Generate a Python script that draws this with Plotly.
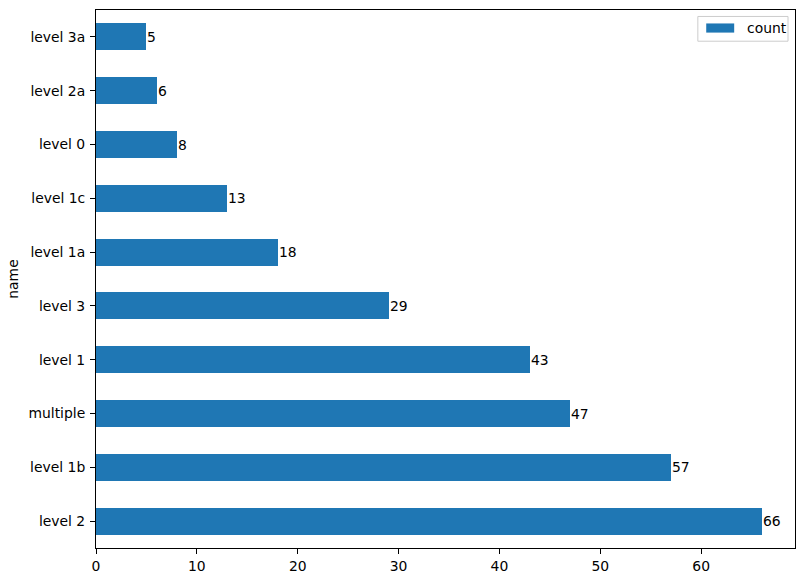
import plotly.graph_objects as go

names = ["level 2", "level 1b", "multiple", "level 1", "level 3", "level 1a", "level 1c", "level 0", "level 2a", "level 3a"]
counts = [66, 57, 47, 43, 29, 18, 13, 8, 6, 5]
x_ticks = [0, 10, 20, 30, 40, 50, 60]

color = "#1f77b4"
font = dict(family="DejaVu Sans", size=13.9, color="black")

fig = go.Figure()
fig.add_trace(go.Bar(
    x=counts, y=list(range(len(names))), orientation="h", width=0.5,
    marker=dict(color=color, line=dict(width=0)), name="count",
    showlegend=False,
))
for i, c in enumerate(counts):
    fig.add_annotation(x=c, y=i, text=str(c), showarrow=False, xanchor="left",
                       yanchor="middle", xshift=-1, font=font)

fig.update_layout(
    width=803, height=582,
    margin=dict(l=96, r=8, t=10, b=34),
    plot_bgcolor="white", paper_bgcolor="white",
    font=font, bargap=0,
)
fig.update_xaxes(
    range=[0, max(counts) * 1.05], tickvals=x_ticks, ticktext=[str(v) for v in x_ticks],
    showgrid=False, zeroline=False, showline=True, linecolor="black", linewidth=1,
    mirror=True, ticks="outside", ticklen=5, tickcolor="black", tickfont=font,
    automargin=False,
)
fig.update_yaxes(
    range=[-0.5, len(names) - 0.5], tickvals=list(range(len(names))), ticktext=names,
    showgrid=False, zeroline=False, showline=True, linecolor="black", linewidth=1,
    mirror=True, ticks="outside", ticklen=5, tickcolor="black", tickfont=font,
    ticklabelstandoff=2, automargin=False,
    title=dict(text="name", font=font, standoff=6),
)

# legend box drawn in paper coordinates (matplotlib-style)
fig.add_shape(type="path", xref="paper", yref="paper",
              path="M 0.861,0.988 L 0.990,0.988 L 0.990,0.942 L 0.861,0.942 Z",
              line=dict(color="#cccccc", width=1), fillcolor="white", layer="above")
fig.add_shape(type="rect", xref="paper", yref="paper",
              x0=0.873, x1=0.913, y0=0.975, y1=0.958,
              line=dict(width=0), fillcolor=color, layer="above")
fig.add_annotation(xref="paper", yref="paper", x=0.928, y=0.9665, text="count",
                   showarrow=False, xanchor="left", yanchor="middle", font=font)

fig.write_html("out.html")
